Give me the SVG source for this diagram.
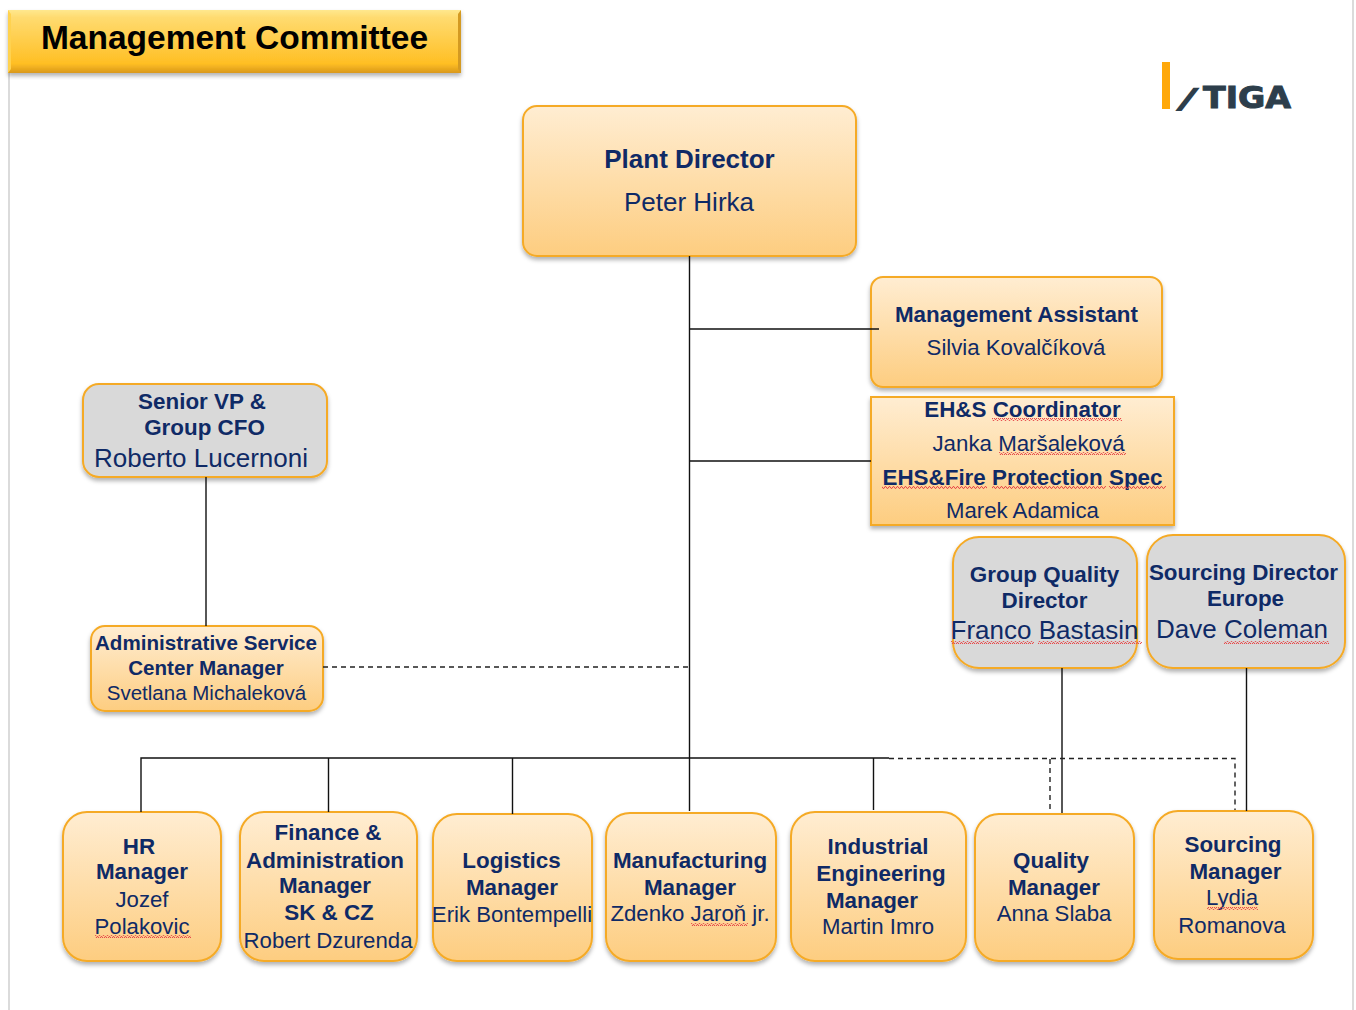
<svg xmlns="http://www.w3.org/2000/svg" width="1356" height="1010" viewBox="0 0 1356 1010">
<style>
text{font-family:"Liberation Sans",Arial,sans-serif;fill:#0f2a66;text-anchor:middle}
.b{font-weight:bold}
.o{fill:url(#og);stroke:#f5aa25;stroke-width:2;filter:url(#sh)}
.g{fill:#d9d9d9;stroke:#f5aa25;stroke-width:2;filter:url(#sh)}
.c{fill:none;stroke:#111;stroke-width:1.4}
.d{fill:none;stroke:#222;stroke-width:1.4;stroke-dasharray:5 4}
.s{fill:url(#sq)}
.l{fill:#2d3e4b;stroke:#2d3e4b;stroke-width:1;font-family:"DejaVu Sans",sans-serif;font-weight:bold}
</style>
<defs>
<linearGradient id="og" x1="0" y1="0" x2="0" y2="1"><stop offset="0" stop-color="#ffedd2"/><stop offset="1" stop-color="#fdcd80"/></linearGradient>
<linearGradient id="tg" x1="0" y1="0" x2="0" y2="1"><stop offset="0" stop-color="#ffe88e"/><stop offset="0.12" stop-color="#ffdb70"/><stop offset="0.85" stop-color="#ffbf24"/><stop offset="1" stop-color="#d9981a"/></linearGradient>
<filter id="sh" x="-10%" y="-10%" width="120%" height="120%"><feDropShadow dx="0" dy="3" stdDeviation="2" flood-color="#000" flood-opacity="0.3"/></filter>
<pattern id="sq" width="4" height="3" patternUnits="userSpaceOnUse"><path d="M0 2.400L1 .6L2 .6L3 2.400L4 2.400" fill="none" stroke="#e64a4a" stroke-width="1"/></pattern>
</defs>
<g id="page-edges"><path d="M9 73V1010M1353 0V1010" fill="none" stroke="#cfcfcf" stroke-width="1.500"/></g>
<g id="title"><rect x="8" y="10" width="453" height="63" fill="url(#tg)" filter="url(#sh)"/><path d="M8 10L11 14V69L8 73Z" fill="#ffd24f"/><path d="M461 10L458 14V69L461 73Z" fill="#d49a22"/><text class="b" x="234.500" y="49" font-size="33.500" style="fill:#000">Management Committee</text></g>
<g id="logo"><rect x="1162" y="62" width="8" height="47" fill="#ffa80a"/><text class="l" x="1184" y="107" font-size="24" style="stroke-width:3.500" transform="translate(0 107) skewX(-25) translate(0 -107)">/</text><text class="l" x="1247" y="108" font-size="30" textLength="88" lengthAdjust="spacingAndGlyphs">TIGA</text></g>
<g id="plant-director"><rect class="o" x="523" y="106" width="333" height="150" rx="14"/><text class="b" x="689.500" y="168" font-size="26">Plant Director</text><text x="689" y="211" font-size="26">Peter Hirka</text></g>
<g id="management-assistant"><rect class="o" x="871" y="277" width="291" height="110" rx="12"/><text class="b" x="1016.500" y="322" font-size="22.400">Management Assistant</text><text x="1016" y="355" font-size="22.200">Silvia Kovalčíková</text></g>
<g id="ehs"><rect class="o" x="871" y="397" width="303" height="128"/><text class="b" x="1022.500" y="417" font-size="22.400">EH&amp;S Coordinator</text><text x="1028.500" y="451" font-size="22.300">Janka Maršaleková</text><text class="b" x="1022.500" y="485" font-size="22.400">EHS&amp;Fire Protection Spec</text><text x="1022.500" y="518" font-size="22.200">Marek Adamica</text>
<rect class="s" x="992" y="418" width="130" height="3"/><rect class="s" x="999" y="452" width="127" height="3"/><rect class="s" x="882" y="486" width="105" height="3"/><rect class="s" x="992" y="486" width="114" height="3"/><rect class="s" x="1109" y="486" width="57" height="3"/></g>
<g id="group-quality"><rect class="g" x="953" y="537" width="184" height="131" rx="26"/><text class="b" x="1044.500" y="582" font-size="22.400">Group Quality</text><text class="b" x="1044.500" y="608" font-size="22.400">Director</text><text x="1044.500" y="638.500" font-size="26">Franco Bastasin</text><rect class="s" x="951" y="641" width="83" height="3"/><rect class="s" x="1038" y="641" width="104" height="3"/></g>
<g id="sourcing-director"><rect class="g" x="1147" y="535" width="198" height="133" rx="26"/><text class="b" x="1243.500" y="580" font-size="22.400">Sourcing Director</text><text class="b" x="1245.500" y="606" font-size="22.400">Europe</text><text x="1242" y="637.500" font-size="26">Dave Coleman</text><rect class="s" x="1224" y="641" width="105" height="3"/></g>
<g id="senior-vp"><rect class="g" x="83" y="384" width="244" height="93" rx="16"/><text class="b" x="202" y="409" font-size="22.400">Senior VP &amp;</text><text class="b" x="204.500" y="435" font-size="22.400">Group CFO</text><text x="201" y="467" font-size="26">Roberto Lucernoni</text></g>
<g id="admin-service"><rect class="o" x="91" y="626" width="232" height="85" rx="14"/><text class="b" x="206" y="650" font-size="20.600">Administrative Service</text><text class="b" x="206" y="675" font-size="20.600">Center Manager</text><text x="206.500" y="700" font-size="20.500">Svetlana Michaleková</text></g>
<g id="hr"><rect class="o" x="63" y="812" width="158" height="149" rx="24"/><text class="b" x="139" y="854" font-size="22.400">HR</text><text class="b" x="142" y="879" font-size="22.400">Manager</text><text x="142" y="907" font-size="22.200">Jozef</text><text x="142" y="934" font-size="22.200">Polakovic</text><rect class="s" x="95" y="935" width="96" height="3"/></g>
<g id="finance"><rect class="o" x="240" y="812" width="177" height="149" rx="24"/><text class="b" x="328" y="840" font-size="22.400">Finance &amp;</text><text class="b" x="325" y="868" font-size="22.400">Administration</text><text class="b" x="325" y="893" font-size="22.400">Manager</text><text class="b" x="329" y="920" font-size="22.400">SK &amp; CZ</text><text x="328" y="948" font-size="22.200">Robert Dzurenda</text></g>
<g id="logistics"><rect class="o" x="433" y="814" width="159" height="147" rx="24"/><text class="b" x="511.500" y="868" font-size="22.400">Logistics</text><text class="b" x="512" y="895" font-size="22.400">Manager</text><text x="512" y="922" font-size="22.200">Erik Bontempelli</text></g>
<g id="manufacturing"><rect class="o" x="606" y="813" width="170" height="148" rx="24"/><text class="b" x="690" y="868" font-size="22.400">Manufacturing</text><text class="b" x="690" y="895" font-size="22.400">Manager</text><text x="690" y="921" font-size="22.200">Zdenko Jaroň jr.</text><rect class="s" x="691" y="923" width="57" height="3"/></g>
<g id="industrial"><rect class="o" x="791" y="812" width="175" height="149" rx="24"/><text class="b" x="878" y="854" font-size="22.400">Industrial</text><text class="b" x="881" y="881" font-size="22.400">Engineering</text><text class="b" x="872" y="908" font-size="22.400">Manager</text><text x="878" y="934" font-size="22.200">Martin Imro</text></g>
<g id="quality"><rect class="o" x="975" y="814" width="159" height="147" rx="24"/><text class="b" x="1051" y="868" font-size="22.400">Quality</text><text class="b" x="1054" y="895" font-size="22.400">Manager</text><text x="1054" y="921" font-size="22.200">Anna Slaba</text></g>
<g id="sourcing"><rect class="o" x="1154" y="811" width="159" height="148" rx="24"/><text class="b" x="1233" y="852" font-size="22.400">Sourcing</text><text class="b" x="1235.500" y="879" font-size="22.400">Manager</text><text x="1232" y="905" font-size="22.200">Lydia</text><text x="1232" y="933" font-size="22.200">Romanova</text><rect class="s" x="1207" y="907" width="51" height="3"/></g>
<g id="connectors">
<path class="c" d="M689.500 256V811M690 329H879M690 461H871M206 477V626M141 812V758H889M328.500 758V812M512.500 758V814M873.500 758V810M1062 668V813M1246.500 668V811"/>
<path class="d" d="M323 667H689M889 758.500H1235V810M1050 759V813"/>
</g>
</svg>
